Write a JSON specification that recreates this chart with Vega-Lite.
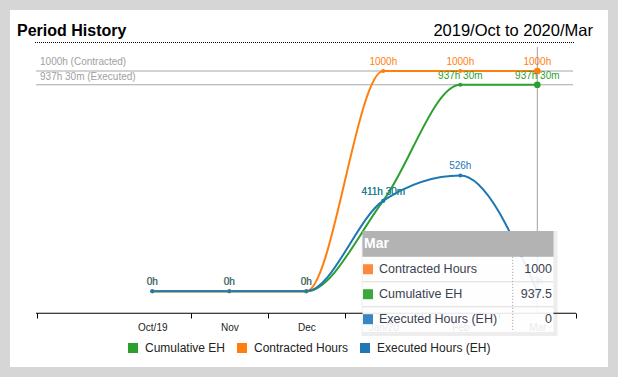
{
  "width": 598,
  "height": 357,
  "padding": {"left": 10, "top": 10, "right": 10, "bottom": 10},
  "autosize": {"type": "none"},
  "background": "#d6d6d6",
  "config": {"font": "Liberation Sans", "view": {"fill": "white", "stroke": null}},
  "datasets": {
    "d": [
      {"month": "Oct/19", "m": 0, "series": "Cumulative EH", "hours": 0, "label": "0h"},
      {"month": "Nov", "m": 1, "series": "Cumulative EH", "hours": 0, "label": "0h"},
      {"month": "Dec", "m": 2, "series": "Cumulative EH", "hours": 0, "label": "0h"},
      {"month": "Jan/20", "m": 3, "series": "Cumulative EH", "hours": 411.5, "label": "411h 30m"},
      {"month": "Feb", "m": 4, "series": "Cumulative EH", "hours": 937.5, "label": "937h 30m"},
      {"month": "Mar", "m": 5, "series": "Cumulative EH", "hours": 937.5, "label": "937h 30m"},
      {"month": "Oct/19", "m": 0, "series": "Contracted Hours", "hours": 0, "label": "0h"},
      {"month": "Nov", "m": 1, "series": "Contracted Hours", "hours": 0, "label": "0h"},
      {"month": "Dec", "m": 2, "series": "Contracted Hours", "hours": 0, "label": "0h"},
      {"month": "Jan/20", "m": 3, "series": "Contracted Hours", "hours": 1000, "label": "1000h"},
      {"month": "Feb", "m": 4, "series": "Contracted Hours", "hours": 1000, "label": "1000h"},
      {"month": "Mar", "m": 5, "series": "Contracted Hours", "hours": 1000, "label": "1000h"},
      {"month": "Oct/19", "m": 0, "series": "Executed Hours (EH)", "hours": 0, "label": "0h"},
      {"month": "Nov", "m": 1, "series": "Executed Hours (EH)", "hours": 0, "label": "0h"},
      {"month": "Dec", "m": 2, "series": "Executed Hours (EH)", "hours": 0, "label": "0h"},
      {"month": "Jan/20", "m": 3, "series": "Executed Hours (EH)", "hours": 411.5, "label": "411h 30m"},
      {"month": "Feb", "m": 4, "series": "Executed Hours (EH)", "hours": 526, "label": "526h"},
      {"month": "Mar", "m": 5, "series": "Executed Hours (EH)", "hours": 0, "label": "0h"}
    ],
    "one": [{"k": 1}]
  },
  "layer": [
    {
      "data": {"name": "one"},
      "mark": {"type": "text", "text": "Period History", "align": "left", "baseline": "alphabetic", "fontSize": 16, "fontWeight": "bold", "color": "#000"},
      "encoding": {
        "x": {"datum": -1.757, "type": "quantitative", "scale": {"domain": [-1.848, 5.918], "nice": false, "zero": false},
          "axis": {"title": null, "values": [-1.5, 0.5, 1.5, 2.5, 3.5, 4.5, 5.5],
            "labelExpr": "datum.value < 0 ? '' : ['Oct/19','Nov','Dec','Jan/20','Feb','Mar'][floor(datum.value)]",
            "labelOffset": -38.5, "labelFlush": false, "labelOverlap": false, "labelBound": false,
            "domain": false, "grid": false, "ticks": true, "tickSize": 5, "tickColor": "#000", "tickWidth": 1,
            "offset": -54, "labelPadding": 4, "labelFontSize": 10, "labelColor": "#222"}},
        "y": {"datum": 1158.9, "type": "quantitative", "scale": {"domain": [-343.6, 1276.9], "nice": false, "zero": false}, "axis": null}
      }
    },
    {
      "data": {"name": "one"},
      "mark": {"type": "text", "text": "2019/Oct to 2020/Mar", "align": "right", "baseline": "alphabetic", "fontSize": 16.5, "color": "#000"},
      "encoding": {"x": {"datum": 5.723, "type": "quantitative"}, "y": {"datum": 1158.9, "type": "quantitative", "axis": null}}
    },
    {
      "data": {"name": "one"},
      "mark": {"type": "point", "shape": "M-1,0L1,0", "size": 291600, "filled": false, "color": "#000", "strokeWidth": 1, "strokeDash": [1, 1], "opacity": 1},
      "encoding": {"x": {"datum": 1.983, "type": "quantitative"}, "y": {"datum": 1129.4, "type": "quantitative", "axis": null}}
    },
    {
      "data": {"name": "one"},
      "mark": {"type": "tick", "orient": "horizontal", "size": 537, "thickness": 1, "color": "#a8a8a8", "opacity": 1},
      "encoding": {"x": {"datum": 1.977, "type": "quantitative"}, "y": {"datum": 1000, "type": "quantitative", "axis": null}}
    },
    {
      "data": {"name": "one"},
      "mark": {"type": "tick", "orient": "horizontal", "size": 537, "thickness": 1, "color": "#a8a8a8", "opacity": 1},
      "encoding": {"x": {"datum": 1.977, "type": "quantitative"}, "y": {"datum": 937.5, "type": "quantitative", "axis": null}}
    },
    {
      "data": {"name": "one"},
      "mark": {"type": "text", "text": "1000h (Contracted)", "align": "left", "baseline": "alphabetic", "dy": -6, "fontSize": 10, "color": "#a0a0a0"},
      "encoding": {"x": {"datum": -1.458, "type": "quantitative"}, "y": {"datum": 1000, "type": "quantitative", "axis": null}}
    },
    {
      "data": {"name": "one"},
      "mark": {"type": "text", "text": "937h 30m (Executed)", "align": "left", "baseline": "alphabetic", "dy": -5, "fontSize": 10, "color": "#a0a0a0"},
      "encoding": {"x": {"datum": -1.458, "type": "quantitative"}, "y": {"datum": 937.5, "type": "quantitative", "axis": null}}
    },
    {
      "data": {"name": "one"},
      "mark": {"type": "tick", "orient": "vertical", "size": 266, "thickness": 1, "color": "#a0a0a0", "opacity": 1},
      "encoding": {"x": {"datum": 5, "type": "quantitative"}, "y": {"datum": 505.2, "type": "quantitative", "axis": null}}
    },
    {
      "data": {"name": "one"},
      "mark": {"type": "tick", "orient": "horizontal", "size": 540, "thickness": 1, "color": "#000", "opacity": 1},
      "encoding": {"x": {"datum": 1.996, "type": "quantitative"}, "y": {"datum": -99.9, "type": "quantitative", "axis": null}}
    },
    {
      "data": {"name": "d"},
      "transform": [{"filter": "datum.m == 5"}],
      "mark": {"type": "circle", "size": 45, "opacity": 1},
      "encoding": {
        "x": {"field": "m", "type": "quantitative"},
        "y": {"field": "hours", "type": "quantitative", "axis": null},
        "color": {"field": "series", "type": "nominal",
          "scale": {"domain": ["Cumulative EH", "Contracted Hours", "Executed Hours (EH)"], "range": ["#2ca02c", "#ff7f0e", "#1f77b4"]},
          "legend": {"title": null, "orient": "none", "legendX": 117, "legendY": 332, "direction": "horizontal", "symbolType": "square", "symbolSize": 100, "symbolStrokeWidth": 0, "symbolOpacity": 1, "labelFontSize": 12, "labelColor": "#222", "labelOffset": 6, "columnPadding": 10}}
      }
    },
    {
      "data": {"name": "d"},
      "mark": {"type": "line", "interpolate": "monotone", "strokeWidth": 2},
      "encoding": {
        "x": {"field": "m", "type": "quantitative"},
        "y": {"field": "hours", "type": "quantitative", "axis": null},
        "color": {"field": "series", "type": "nominal"}
      }
    },
    {
      "data": {"name": "d"},
      "transform": [{"filter": "datum.m < 5"}],
      "mark": {"type": "circle", "size": 16, "opacity": 1},
      "encoding": {
        "x": {"field": "m", "type": "quantitative"},
        "y": {"field": "hours", "type": "quantitative", "axis": null},
        "color": {"field": "series", "type": "nominal"}
      }
    },
    {
      "data": {"name": "d"},
      "mark": {"type": "text", "baseline": "alphabetic", "dy": -6, "fontSize": 10},
      "encoding": {
        "x": {"field": "m", "type": "quantitative"},
        "y": {"field": "hours", "type": "quantitative", "axis": null},
        "text": {"field": "label"},
        "color": {"field": "series", "type": "nominal"}
      }
    },
    {
      "data": {"name": "one"},
      "mark": {"type": "tick", "orient": "horizontal", "size": 196, "thickness": 105, "color": "#000", "opacity": 0.07},
      "encoding": {"x": {"datum": 3.99, "type": "quantitative"}, "y": {"datum": 35.4, "type": "quantitative", "axis": null}}
    },
    {
      "data": {"name": "one"},
      "mark": {"type": "tick", "orient": "horizontal", "size": 191, "thickness": 75.3, "color": "#ffffff", "opacity": 0.9},
      "encoding": {"x": {"datum": 3.97, "type": "quantitative"}, "y": {"datum": -13.8, "type": "quantitative", "axis": null}}
    },
    {
      "data": {"name": "one"},
      "mark": {"type": "tick", "orient": "horizontal", "size": 191, "thickness": 25.7, "color": "#b3b3b3", "opacity": 1},
      "encoding": {"x": {"datum": 3.97, "type": "quantitative"}, "y": {"datum": 215.4, "type": "quantitative", "axis": null}}
    },
    {
      "data": {"name": "one"},
      "mark": {"type": "tick", "orient": "horizontal", "size": 191, "thickness": 1, "color": "#dcdcdc", "opacity": 1},
      "encoding": {"x": {"datum": 3.97, "type": "quantitative"}, "y": {"datum": 43.6, "type": "quantitative", "axis": null}}
    },
    {
      "data": {"name": "one"},
      "mark": {"type": "tick", "orient": "horizontal", "size": 191, "thickness": 1, "color": "#dcdcdc", "opacity": 1},
      "encoding": {"x": {"datum": 3.97, "type": "quantitative"}, "y": {"datum": -69.9, "type": "quantitative", "axis": null}}
    },
    {
      "data": {"name": "one"},
      "mark": {"type": "point", "shape": "M0,-1L0,1", "size": 5625, "filled": false, "color": "#999", "strokeWidth": 1, "strokeDash": [1, 2], "opacity": 1},
      "encoding": {"x": {"datum": 4.681, "type": "quantitative"}, "y": {"datum": -13.8, "type": "quantitative", "axis": null}}
    },
    {
      "data": {"name": "one"},
      "mark": {"type": "text", "text": "Mar", "align": "left", "baseline": "middle", "fontSize": 14, "fontWeight": "bold", "color": "#ffffff"},
      "encoding": {"x": {"datum": 2.749, "type": "quantitative"}, "y": {"datum": 214.7, "type": "quantitative", "axis": null}}
    },
    {
      "data": {"name": "one"},
      "mark": {"type": "square", "size": 100, "color": "#fd8a3a", "opacity": 1},
      "encoding": {"x": {"datum": 2.801, "type": "quantitative"}, "y": {"datum": 100.3, "type": "quantitative", "axis": null}}
    },
    {
      "data": {"name": "one"},
      "mark": {"type": "square", "size": 100, "color": "#3aa83a", "opacity": 1},
      "encoding": {"x": {"datum": 2.801, "type": "quantitative"}, "y": {"datum": -13.2, "type": "quantitative", "axis": null}}
    },
    {
      "data": {"name": "one"},
      "mark": {"type": "square", "size": 100, "color": "#3586c2", "opacity": 1},
      "encoding": {"x": {"datum": 2.801, "type": "quantitative"}, "y": {"datum": -126.6, "type": "quantitative", "axis": null}}
    },
    {
      "data": {"name": "one"},
      "mark": {"type": "text", "text": "Contracted Hours", "align": "left", "baseline": "middle", "fontSize": 12.5, "color": "#3b4150"},
      "encoding": {"x": {"datum": 2.944, "type": "quantitative"}, "y": {"datum": 100.3, "type": "quantitative", "axis": null}}
    },
    {
      "data": {"name": "one"},
      "mark": {"type": "text", "text": "Cumulative EH", "align": "left", "baseline": "middle", "fontSize": 12.5, "color": "#3b4150"},
      "encoding": {"x": {"datum": 2.944, "type": "quantitative"}, "y": {"datum": -13.2, "type": "quantitative", "axis": null}}
    },
    {
      "data": {"name": "one"},
      "mark": {"type": "text", "text": "Executed Hours (EH)", "align": "left", "baseline": "middle", "fontSize": 12.5, "color": "#3b4150"},
      "encoding": {"x": {"datum": 2.944, "type": "quantitative"}, "y": {"datum": -126.6, "type": "quantitative", "axis": null}}
    },
    {
      "data": {"name": "one"},
      "mark": {"type": "text", "text": "1000", "align": "right", "baseline": "middle", "fontSize": 12.5, "color": "#3b4150"},
      "encoding": {"x": {"datum": 5.191, "type": "quantitative"}, "y": {"datum": 100.3, "type": "quantitative", "axis": null}}
    },
    {
      "data": {"name": "one"},
      "mark": {"type": "text", "text": "937.5", "align": "right", "baseline": "middle", "fontSize": 12.5, "color": "#3b4150"},
      "encoding": {"x": {"datum": 5.191, "type": "quantitative"}, "y": {"datum": -13.2, "type": "quantitative", "axis": null}}
    },
    {
      "data": {"name": "one"},
      "mark": {"type": "text", "text": "0", "align": "right", "baseline": "middle", "fontSize": 12.5, "color": "#3b4150"},
      "encoding": {"x": {"datum": 5.191, "type": "quantitative"}, "y": {"datum": -126.6, "type": "quantitative", "axis": null}}
    }
  ]
}
